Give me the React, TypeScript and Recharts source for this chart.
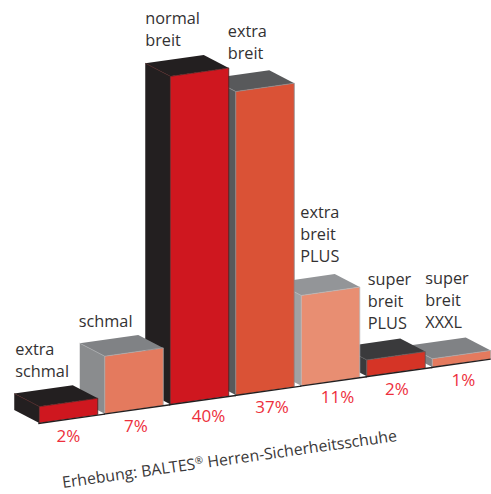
import { BarChart, Bar, XAxis, YAxis, LabelList } from 'recharts';

const CATEGORIES = [
  'extra\nschmal',
  'schmal',
  'normal\nbreit',
  'extra\nbreit',
  'extra\nbreit\nPLUS',
  'super\nbreit\nPLUS',
  'super\nbreit\nXXXL',
];
const SHARES = [2, 7, 40, 37, 11, 2, 1];

const FRONT_COLORS = ['#cf171f', '#e47a5e', '#cf171f', '#da5236', '#e88e72', '#d53426', '#e47a5e'];
const TOP_COLORS = ['#231f20', '#808285', '#231f20', '#58595b', '#939598', '#3a3a3c', '#808285'];
const SIDE_COLORS = ['#231f20', '#8a8c8e', '#231f20', '#58595b', '#a0a1a3', '#3a3a3c', '#808285'];
const EDGE_COLORS = ['#4a1f20', '#a7a9ac', '#4a1f20', '#8a8c8e', '#b5b6b8', '#58595b', '#a7a9ac'];

// where each name sits, relative to the back left corner of its bar
const NAME_DX = [1, -1, 0, 17, 24, 26, 18];
const NAME_DY = [-17, -16, -17, -20, -20, -18, -18];
// nudges of the percent labels along the slanted floor
const SHARE_DX = [0, 2, 9, 7, 7, 1, 2];

const WIDTH = 500;
const HEIGHT = 494;
const SLOPE = 0.1425; // the floor climbs to the right
const START_X = 39;
const DEPTH_X = 25;
const DEPTH_Y = 13;
const GAP = 7;

// painted right to left, nearer bars cover the ones behind them
const table = CATEGORIES.map((name, i) => ({
  name,
  share: SHARES[i],
  order: i,
})).reverse();

const lift = (x: number) => (x - START_X) * SLOPE;
const pts = (list: number[][]) => list.map((p) => p.join(',')).join(' ');

function Bar3D(props: any) {
  const { x, y, width, height, payload } = props;
  const i = payload.order;
  const x2 = x + width;
  const yL = y - lift(x);
  const yR = y - lift(x2);
  const bL = yL + height;
  const bR = yR + height;
  const edge = EDGE_COLORS[i];
  return (
    <g>
      <polygon
        points={pts([[x, yL], [x - DEPTH_X, yL - DEPTH_Y], [x - DEPTH_X, bL - DEPTH_Y], [x, bL]])}
        fill={SIDE_COLORS[i]}
      />
      <polygon
        points={pts([[x, yL], [x - DEPTH_X, yL - DEPTH_Y], [x2 - DEPTH_X, yR - DEPTH_Y], [x2, yR]])}
        fill={TOP_COLORS[i]}
      />
      <polygon points={pts([[x, yL], [x2, yR], [x2, bR], [x, bL]])} fill={FRONT_COLORS[i]} />
      <polyline
        points={pts([[x - DEPTH_X, yL - DEPTH_Y], [x, yL], [x2, yR], [x2, bR]])}
        fill="none"
        stroke={edge}
        strokeWidth={0.8}
      />
      <line x1={x} y1={yL} x2={x} y2={bL} stroke={edge} strokeWidth={0.8} />
      {/* floor shadow */}
      <line
        x1={x - 1}
        y1={bL + 0.5}
        x2={x2 + (i < CATEGORIES.length - 1 ? GAP : 0)}
        y2={bR + 0.5 - (i < CATEGORIES.length - 1 ? GAP * SLOPE : 0)}
        stroke="#231f20"
        strokeWidth={1.4}
      />
    </g>
  );
}

function NameLabel(props: any) {
  const { x, y, value, index } = props;
  const i = table[index].order;
  const lines = String(value).split('\n');
  const lastY = y - lift(x) - DEPTH_Y + NAME_DY[i];
  return (
    <text
      x={x - DEPTH_X + NAME_DX[i]}
      y={lastY - (lines.length - 1) * 22}
      fontFamily="'Open Sans', sans-serif"
      fontSize={16.3}
      fill="#333132"
    >
      {lines.map((line, n) => (
        <tspan key={line} x={x - DEPTH_X + NAME_DX[i]} dy={n === 0 ? 0 : 22}>
          {line}
        </tspan>
      ))}
    </text>
  );
}

function ShareLabel(props: any) {
  const { x, y, width, height, value, index } = props;
  const i = table[index].order;
  const cx = x + width / 2 + SHARE_DX[i];
  return (
    <text
      x={cx}
      y={y + height - lift(cx) + 23}
      textAnchor="middle"
      fontFamily="'Open Sans', sans-serif"
      fontSize={17}
      fill="#ed2f3c"
    >
      {value}%
    </text>
  );
}

export default function App() {
  return (
    <div style={{ position: 'absolute', left: 0, top: 0, width: 491, height: 494, overflow: 'hidden', background: '#fff' }}>
      <BarChart
        width={WIDTH}
        height={HEIGHT}
        data={table}
        margin={{ top: 54, right: 6.25, bottom: 71, left: 35.25 }}
      >
        <XAxis dataKey="name" reversed hide />
        <YAxis hide domain={[0, 45]} />
        <Bar dataKey="share" barSize={58.5} shape={Bar3D} isAnimationActive={false}>
          <LabelList dataKey="name" content={NameLabel} />
          <LabelList dataKey="share" content={ShareLabel} />
        </Bar>
        <text
          x={63}
          y={488}
          transform="rotate(-8 63 488)"
          fontFamily="'Open Sans', sans-serif"
          fontSize={15.8}
          fill="#3a3839"
        >
          Erhebung: BALTES
          <tspan fontSize={10} dy={-5}>®</tspan>
          <tspan dy={5}> Herren-Sicherheitsschuhe</tspan>
        </text>
      </BarChart>
    </div>
  );
}
